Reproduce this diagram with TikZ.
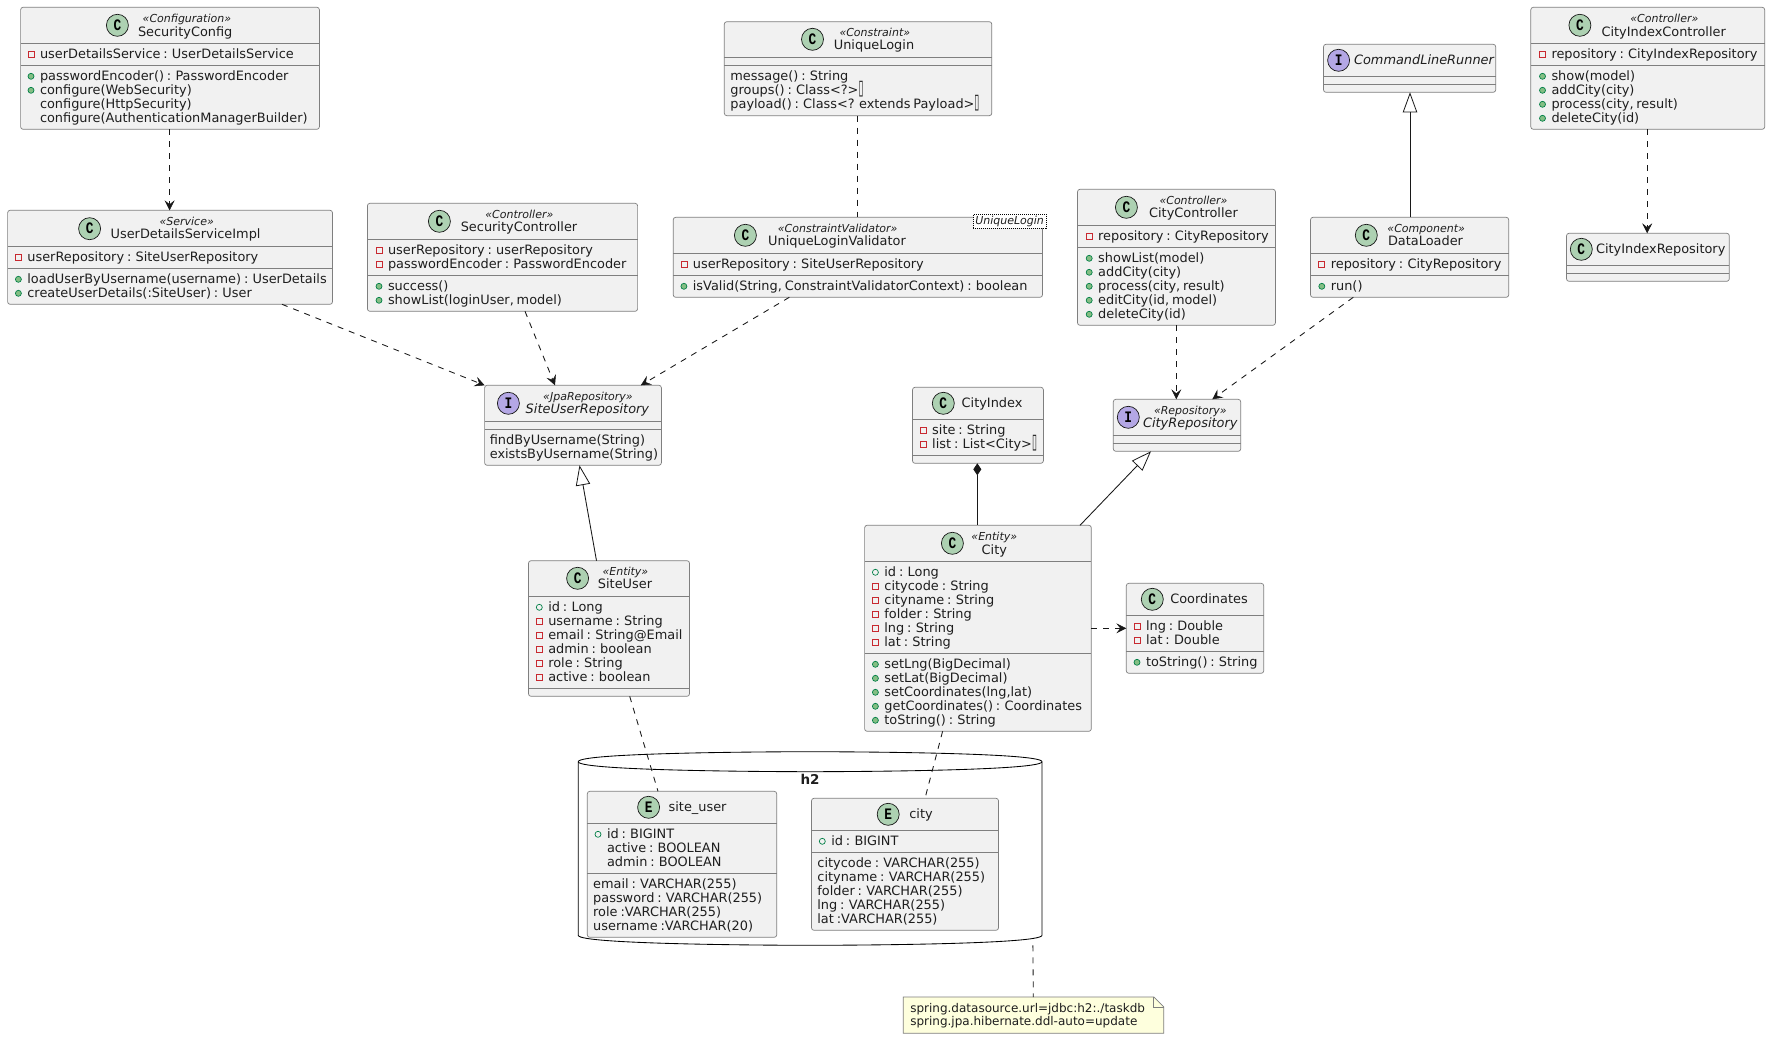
\documentclass[tikz,border=0pt]{standalone}
\usepackage{fontspec}
\setmainfont{DejaVu Sans}[WordSpace=0.7]
\newfontfamily\spotfont{Liberation Mono}[BoldFont={Liberation Mono Bold}]
\usetikzlibrary{arrows.meta}
\definecolor{boxfill}{HTML}{F1F1F1}
\definecolor{boxline}{HTML}{7F7F7F}
\definecolor{linecol}{HTML}{181818}
\definecolor{spotC}{HTML}{ADD1B2}
\definecolor{spotI}{HTML}{B4A7E5}
\definecolor{privcol}{HTML}{C82930}
\definecolor{publine}{HTML}{038048}
\definecolor{pubfill}{HTML}{84BE84}
\definecolor{notefill}{HTML}{FEFFDD}
\definecolor{textcol}{HTML}{1E1E1E}
\tikzset{
  umlcls/.style={draw=boxline,fill=boxfill,line width=.7pt,rounded corners=2.5pt,inner sep=0pt,outer sep=0pt,rectangle},
  ghost/.style={inner sep=0pt,outer sep=0pt,rectangle},
  divline/.style={draw=boxline,line width=.7pt},
  spotdisc/.style={circle,draw=linecol,line width=.7pt,minimum size=22pt,inner sep=0pt,outer sep=0pt},
  titletxt/.style={inner sep=0pt,outer sep=0pt,anchor=base,font=\fontsize{12.9}{14}\selectfont,text=textcol},
  stereotxt/.style={inner sep=0pt,outer sep=0pt,anchor=base,font=\fontsize{11}{12}\selectfont\itshape,text=textcol},
  membertxt/.style={inner sep=0pt,outer sep=0pt,anchor=base west,font=\fontsize{12.9}{14}\selectfont,text=textcol},
  privmark/.style={draw=privcol,line width=.7pt},
  pubmark/.style={draw=publine,fill=pubfill,line width=.7pt},
  fldmark/.style={draw=publine,line width=.7pt},
  dep/.style={draw=linecol,line width=.86pt,dash pattern=on 6pt off 6pt,-{Stealth[length=10pt,width=10pt,inset=4pt,line width=.5pt]}},
  dashlink/.style={draw=linecol,line width=.86pt,dash pattern=on 6pt off 6pt},
  inherit/.style={draw=linecol,line width=.86pt,-{Triangle[open,fill=white,length=20pt,width=14.4pt,line width=.8pt]}},
  compo/.style={draw=linecol,line width=.86pt,{Diamond[length=12pt,width=8pt]}-},
}
\newcount\mlc
\newcommand\umlbox[7]{% name x1 y1 x2 y2 d1 d2
  \node[umlcls,minimum width={#4pt-#2pt},minimum height={#5pt-#3pt}] (#1) at ({(#2+#4)/2},{(#3+#5)/2}) {};
  \draw[divline] (#2,#6) -- (#4,#6);
  \draw[divline] (#2,#7) -- (#4,#7);
}
\newcommand\spotmark[5]{% name x y letter colour
  \node[spotdisc,fill=#5] (#1-spot) at (#2,#3) {\fontsize{16}{16}\selectfont\spotfont\bfseries\scalebox{.8}[1]{#4}};
}
\newcommand\tofu{\scalebox{.7}[1.6]{▯}}
\newcommand\titlet[4]{\node[titletxt] (#1-title) at (#2,{#3+4.4}) {#4};}
\newcommand\titlei[4]{\node[titletxt,font=\fontsize{12.9}{14}\selectfont\itshape] (#1-title) at (#2,{#3+4.4}) {#4};}
\newcommand\stereot[4]{\node[stereotxt] (#1-st) at (#2,{#3+3.8}) {«#4»};}
\newcommand\mtext[3]{\global\advance\mlc by 1 \node[membertxt] (ml\the\mlc) at (#1,{#2+4.4}) {#3};}
\newcommand\mplain[3]{\mtext{#1}{#2}{#3}}
\newcommand\mpriv[3]{\draw[privmark] ({#1-12},{#2-3}) rectangle ({#1-6},{#2+3}); \mtext{#1}{#2}{#3}}
\newcommand\mpub[3]{\draw[pubmark] ({#1-9},#2) circle (3pt); \mtext{#1}{#2}{#3}}
\newcommand\mfld[3]{\draw[fldmark] ({#1-9},#2) circle (3pt); \mtext{#1}{#2}{#3}}
\begin{document}
\begin{tikzpicture}[x=1pt,y=-1pt]
\useasboundingbox (0,0) rectangle (1770,1039);
\fill[white] (0,0) rectangle (1770,1039);

% database cylinder
\node[ghost,minimum width=463.8pt,minimum height=193.6pt] (h2db) at (810.1,848.5) {};
\draw[draw=black,line width=.86pt,fill=white]
  (578.2,761.7) .. controls (578.2,751.7) and (810.1,751.7) .. (810.1,751.7)
  .. controls (810.1,751.7) and (1042,751.7) .. (1042,761.7)
  -- (1042,935.3)
  .. controls (1042,945.3) and (810.1,945.3) .. (810.1,945.3)
  .. controls (810.1,945.3) and (578.2,945.3) .. (578.2,935.3) -- cycle;
\draw[draw=black,line width=.86pt]
  (578.2,761.7) .. controls (578.2,771.7) and (810.1,771.7) .. (810.1,771.7)
  .. controls (810.1,771.7) and (1042,771.7) .. (1042,761.7);
\node[titletxt,font=\fontsize{13.5}{14}\selectfont\bfseries] (h2label) at (810,784.8) {h2};

% SecurityConfig
\umlbox{secCfg}{20.6}{7.3}{319.4}{129.3}{43.3}{65.3}
\spotmark{secCfg}{117.4}{25.3}{C}{spotC}
\stereot{secCfg}{186.9}{19}{Configuration}
\titlet{secCfg}{185.2}{31.7}{SecurityConfig}
\mpriv{40}{54.3}{userDetailsService : UserDetailsService}
\mpub{40}{76.3}{passwordEncoder() : PasswordEncoder}
\mpub{40}{90.3}{configure(WebSecurity)}
\mplain{40}{104.3}{configure(HttpSecurity)}
\mplain{40}{118.3}{configure(AuthenticationManagerBuilder)}

% UserDetailsServiceImpl
\umlbox{udsi}{7.6}{210.3}{332.5}{304.3}{246.3}{268.3}
\spotmark{udsi}{89.6}{228.7}{C}{spotC}
\stereot{udsi}{186.7}{222}{Service}
\titlet{udsi}{185.6}{234.3}{UserDetailsServiceImpl}
\mpriv{27.4}{257.3}{userRepository : SiteUserRepository}
\mpub{27.4}{279.3}{loadUserByUsername(username) : UserDetails}
\mpub{27.4}{293.3}{createUserDetails(:SiteUser) : User}

% SecurityController
\umlbox{secCtl}{367.4}{203.3}{637.6}{311.3}{239.3}{275.3}
\spotmark{secCtl}{439.4}{221.3}{C}{spotC}
\stereot{secCtl}{519.4}{215}{Controller}
\titlet{secCtl}{519}{227.3}{SecurityController}
\mpriv{388}{250.3}{userRepository : userRepository}
\mpriv{388}{264.3}{passwordEncoder : PasswordEncoder}
\mpub{388}{286.3}{success()}
\mpub{388}{300.3}{showList(loginUser, model)}

% UniqueLogin
\umlbox{uLogin}{724.3}{21.7}{991.8}{115.7}{57.3}{65.3}
\spotmark{uLogin}{812.5}{39.3}{C}{spotC}
\stereot{uLogin}{874.8}{33}{Constraint}
\titlet{uLogin}{874}{45.3}{UniqueLogin}
\mplain{730.4}{76.3}{message() : String}
\mplain{730.4}{90.3}{groups() : Class<?>\tofu}
\mplain{730.4}{104.3}{payload() : Class<? extends Payload>\tofu}

% UniqueLoginValidator
\umlbox{ulv}{673.2}{217.3}{1042.5}{297.3}{253.3}{275.3}
\spotmark{ulv}{745.4}{235.3}{C}{spotC}
\stereot{ulv}{837.7}{229}{ConstraintValidator}
\titlet{ulv}{837}{241.3}{UniqueLoginValidator}
\mpriv{692.9}{264.3}{userRepository : SiteUserRepository}
\mpub{692.9}{286.3}{isValid(String, ConstraintValidatorContext) : boolean}
\node[draw=black,line width=.7pt,dash pattern=on 1pt off 1pt,fill=white,inner sep=0pt,minimum width=72.8pt,minimum height=14pt,font=\fontsize{11}{12}\selectfont\itshape,text=textcol] (ulvTag) at (1009.6,221.3) {UniqueLogin};

% CityController
\umlbox{cityCtl}{1077.5}{189.3}{1275.4}{325.3}{225.3}{247.3}
\spotmark{cityCtl}{1126.4}{207.3}{C}{spotC}
\stereot{cityCtl}{1193.5}{201}{Controller}
\titlet{cityCtl}{1193.5}{213.3}{CityController}
\mpriv{1098.2}{236.3}{repository : CityRepository}
\mpub{1098.2}{258.3}{showList(model)}
\mpub{1098.2}{272.3}{addCity(city)}
\mpub{1098.2}{286.3}{process(city, result)}
\mpub{1098.2}{300.3}{editCity(id, model)}
\mpub{1098.2}{314.3}{deleteCity(id)}

% CommandLineRunner
\umlbox{clr}{1323.5}{44.3}{1495.7}{92.3}{76.3}{84.3}
\spotmark{clr}{1338.6}{60.3}{I}{spotI}
\titlei{clr}{1424}{60.3}{CommandLineRunner}

% DataLoader
\umlbox{dataL}{1310.5}{217.3}{1508.7}{297.3}{253.3}{275.3}
\spotmark{dataL}{1366.3}{235.3}{C}{spotC}
\stereot{dataL}{1426.2}{229}{Component}
\titlet{dataL}{1425.5}{241.3}{DataLoader}
\mpriv{1330.8}{264.3}{repository : CityRepository}
\mpub{1330.8}{286.3}{run()}

% CityIndexController
\umlbox{cic}{1530.8}{7.3}{1764.7}{129.3}{43.3}{65.3}
\spotmark{cic}{1579.9}{25.3}{C}{spotC}
\stereot{cic}{1664.4}{19}{Controller}
\titlet{cic}{1663.7}{31.7}{CityIndexController}
\mpriv{1551.5}{54.3}{repository : CityIndexRepository}
\mpub{1551.5}{76.3}{show(model)}
\mpub{1551.5}{90.3}{addCity(city)}
\mpub{1551.5}{104.3}{process(city, result)}
\mpub{1551.5}{118.3}{deleteCity(id)}

% CityIndexRepository
\umlbox{cir}{1566.5}{233.3}{1729.3}{281.3}{265.3}{273.3}
\spotmark{cir}{1581.3}{249.3}{C}{spotC}
\titlet{cir}{1660.7}{249.3}{CityIndexRepository}

% SiteUserRepository
\umlbox{sur}{484.6}{385.3}{661.4}{465.3}{421.3}{429.3}
\spotmark{sur}{508.4}{403.3}{I}{spotI}
\stereot{sur}{588}{397}{JpaRepository}
\titlei{sur}{587.4}{409.3}{SiteUserRepository}
\mplain{489.8}{440.3}{findByUsername(String)}
\mplain{489.8}{454.3}{existsByUsername(String)}

% SiteUser
\umlbox{siteU}{528.5}{560.7}{689.5}{696.3}{596.7}{688.3}
\spotmark{siteU}{577.6}{578.3}{C}{spotC}
\stereot{siteU}{625.4}{571.7}{Entity}
\titlet{siteU}{625}{584.3}{SiteUser}
\mfld{548.3}{607.3}{id : Long}
\mpriv{548.3}{621.3}{username : String}
\mpriv{548.3}{635.3}{email : String@Email}
\mpriv{548.3}{649.3}{admin : boolean}
\mpriv{548.3}{663.3}{role : String}
\mpriv{548.3}{677.3}{active : boolean}

% CityIndex
\umlbox{cityIdx}{912.5}{387.3}{1043.4}{463.3}{419.3}{455.3}
\spotmark{cityIdx}{943.3}{403.3}{C}{spotC}
\titlet{cityIdx}{992.1}{403.3}{CityIndex}
\mpriv{932.2}{430.3}{site : String}
\mpriv{932.2}{444.3}{list : List<City>\tofu}

% City
\umlbox{city}{864.6}{525.3}{1091.3}{731.3}{561.3}{653.3}
\spotmark{city}{952.4}{543.3}{C}{spotC}
\stereot{city}{994.3}{536.7}{Entity}
\titlet{city}{994.3}{549.7}{City}
\mfld{884.4}{572.3}{id : Long}
\mpriv{884.4}{586.3}{citycode : String}
\mpriv{884.4}{600.3}{cityname : String}
\mpriv{884.4}{614.3}{folder : String}
\mpriv{884.4}{628.3}{lng : String}
\mpriv{884.4}{642.3}{lat : String}
\mpub{884.4}{664.3}{setLng(BigDecimal)}
\mpub{884.4}{678.3}{setLat(BigDecimal)}
\mpub{884.4}{692.3}{setCoordinates(lng,lat)}
\mpub{884.4}{706.3}{getCoordinates() : Coordinates}
\mpub{884.4}{720.3}{toString() : String}

% CityRepository
\umlbox{cityRepo}{1113.3}{399.3}{1240.7}{451.3}{435.3}{443.3}
\spotmark{cityRepo}{1128.3}{417.3}{I}{spotI}
\stereot{cityRepo}{1190.3}{410.7}{Repository}
\titlei{cityRepo}{1190.3}{423.3}{CityRepository}

% Coordinates
\umlbox{coords}{1126.3}{583.3}{1263.7}{673.3}{615.3}{651.3}
\spotmark{coords}{1152.3}{599.3}{C}{spotC}
\titlet{coords}{1209}{599.3}{Coordinates}
\mpriv{1146}{626.3}{lng : Double}
\mpriv{1146}{640.3}{lat : Double}
\mpub{1146}{662.3}{toString() : String}

% site_user table
\umlbox{tblUser}{587.3}{791.3}{776.7}{937.3}{823.3}{873.3}
\spotmark{tblUser}{648.6}{807.3}{E}{spotC}
\titlet{tblUser}{697.6}{807.3}{site\_user}
\mfld{607}{834.3}{id : BIGINT}
\mplain{607}{848.3}{active : BOOLEAN}
\mplain{607}{862.3}{admin : BOOLEAN}
\mplain{593.2}{884.3}{email : VARCHAR(255)}
\mplain{593.2}{898.3}{password : VARCHAR(255)}
\mplain{593.2}{912.3}{role :VARCHAR(255)}
\mplain{593.2}{926.3}{username :VARCHAR(20)}

% city table
\umlbox{tblCity}{811.5}{798.3}{998.5}{930.3}{830.3}{852.3}
\spotmark{tblCity}{888.2}{814.3}{E}{spotC}
\titlet{tblCity}{921}{814.3}{city}
\mfld{831.3}{841.3}{id : BIGINT}
\mplain{817.4}{863.3}{citycode : VARCHAR(255)}
\mplain{817.4}{877.3}{cityname : VARCHAR(255)}
\mplain{817.4}{891.3}{folder : VARCHAR(255)}
\mplain{817.4}{905.3}{lng : VARCHAR(255)}
\mplain{817.4}{919.3}{lat :VARCHAR(255)}

% note
\node[ghost,minimum width=260.6pt,minimum height=36.3pt] (noteH2) at (1033.5,1015.15) {};
\draw[draw=boxline,line width=.7pt,fill=notefill]
  (903.2,997) -- (1153.8,997) -- (1163.8,1007) -- (1163.8,1033.3) -- (903.2,1033.3) -- cycle;
\draw[draw=boxline,line width=.7pt] (1153.8,997) -- (1153.8,1007) -- (1163.8,1007);
\node[membertxt,font=\fontsize{12}{13}\selectfont] (noteL1) at (910.3,1012.4) {spring.datasource.url=jdbc:h2:./taskdb};
\node[membertxt,font=\fontsize{12}{13}\selectfont] (noteL2) at (910.3,1025.8) {spring.jpa.hibernate.ddl-auto=update};

% connectors
\draw[dep] ([xshift=149pt]secCfg.south west) -- ([xshift=162pt]udsi.north west);
\draw[dep] ([xshift=274.4pt]udsi.south west) -- ([xshift=0pt]sur.north west);
\draw[dep] ([xshift=157.6pt]secCtl.south west) -- ([xshift=70.4pt]sur.north west);
\draw[dep] ([xshift=116.1pt]ulv.south west) -- ([xshift=156.2pt]sur.north west);
\draw[dashlink] ([xshift=133.2pt]uLogin.south west) -- ([xshift=184.3pt]ulv.north west);
\draw[dep] ([xshift=98.8pt]cityCtl.south west) -- ([xshift=63pt]cityRepo.north west);
\draw[dep] ([xshift=42.8pt]dataL.south west) -- ([xshift=99pt]cityRepo.north west);
\draw[inherit] ([xshift=99.5pt]dataL.north west) -- ([xshift=86.5pt]clr.south west);
\draw[dep] ([xshift=116.4pt]cic.south west) -- ([xshift=80.7pt]cir.north west);
\draw[inherit] ([xshift=68pt]siteU.north west) -- ([xshift=94.9pt]sur.south west);
\draw[compo] ([xshift=64.8pt]cityIdx.south west) -- ([xshift=112.7pt]city.north west);
\draw[inherit] ([xshift=215.4pt]city.north west) -- ([xshift=37.7pt]cityRepo.south west);
\draw[dep] ([yshift=-103pt]city.north east) -- ([yshift=-45pt]coords.north west);
\draw[dashlink] ([xshift=101.2pt]siteU.south west) -- ([xshift=70.7pt]tblUser.north west);
\draw[dashlink] ([xshift=78pt]city.south west) -- ([xshift=113.5pt]tblCity.north west);
\draw[dashlink] ([xshift=454.7pt]h2db.south west) -- ([xshift=130.1pt]noteH2.north west);
\end{tikzpicture}
\end{document}
